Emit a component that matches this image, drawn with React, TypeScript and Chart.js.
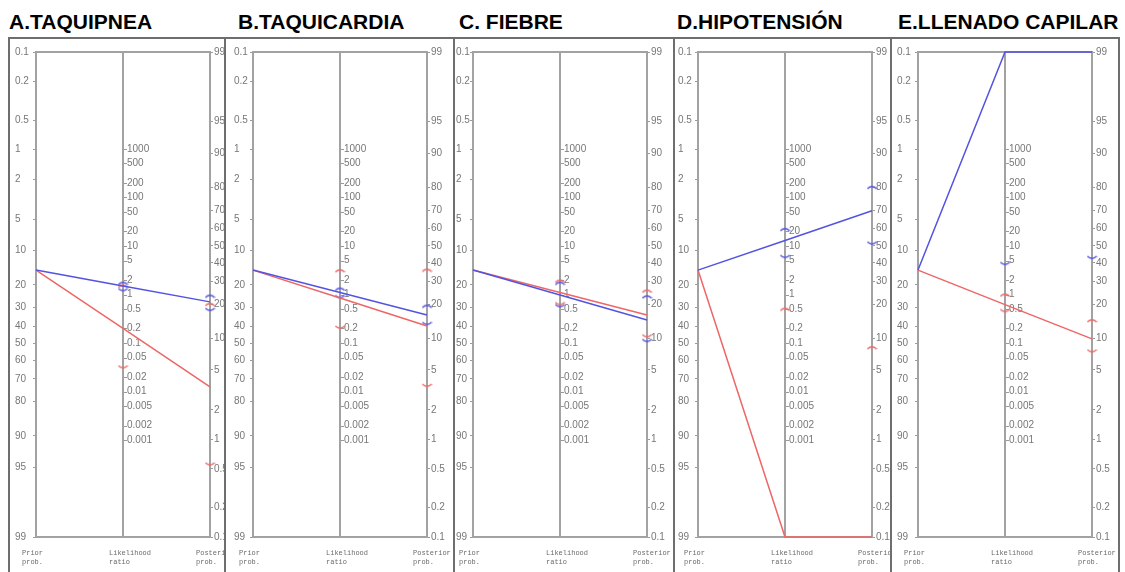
import React, { useEffect, useRef } from "react";
import { Chart, registerables } from "chart.js";

Chart.register(...registerables);

// ---------------- data ----------------
const panelTitles = ["A.TAQUIPNEA", "B.TAQUICARDIA", "C. FIEBRE", "D.HIPOTENSIÓN", "E.LLENADO CAPILAR"];

// pre-test probability (%)
const priorProbability = [15, 15, 15, 15, 15];

// positive test (blue)
const positiveLR = [1.5, 1.1, 0.98, 13, Infinity];
const positiveLRLow = [1.24, 0.89, 0.58, 6.0, 4.3];
const positiveLRHigh: (number | null)[] = [1.72, 1.3, 1.72, 22, null];
const positivePosterior = [20.9, 16.2, 14.7, 69.6, 100];
const positivePosteriorLow = [18, 13.6, 9.5, 51.5, 43];
const positivePosteriorHigh: (number | null)[] = [23.3, 19.3, 23, 80, null];

// negative test (red)
const negativeLR = [0.2, 0.85, 1.1, 0, 0.62];
const negativeLRLow: (number | null)[] = [0.032, 0.21, 0.64, null, 0.46];
const negativeLRHigh = [1.5, 3.1, 1.9, 0.5, 0.98];
const negativePosterior = [3.4, 13, 16.2, 0, 9.9];
const negativePosteriorLow: (number | null)[] = [0.56, 3.5, 10.5, null, 7.6];
const negativePosteriorHigh = [20, 36, 25.5, 8.2, 14.5];

// axis ticks
const priorTicks = [0.1, 0.2, 0.5, 1, 2, 5, 10, 20, 30, 40, 50, 60, 70, 80, 90, 95, 99];
const lrTicks = [1000, 500, 200, 100, 50, 20, 10, 5, 2, 1, 0.5, 0.2, 0.1, 0.05, 0.02, 0.01, 0.005, 0.002, 0.001];
const lrTickLabels = ["1000", "500", "200", "100", "50", "20", "10", "5", "2", "1", "0.5", "0.2", "0.1", "0.05", "0.02", "0.01", "0.005", "0.002", "0.001"];
const posteriorTicks = [99, 95, 90, 80, 70, 60, 50, 40, 30, 20, 10, 5, 2, 1, 0.5, 0.2, 0.1];
const axisNames = [["Prior", "prob."], ["Likelihood", "ratio"], ["Posterior", "prob."]];

// ---------------- layout ----------------
const panelLeft = [8, 224, 453, 673, 890];
const panelRight = [224, 453, 673, 890, 1120];
const leftAxisX = [36, 253, 473, 698, 918];
const labelStartX = [15, 234, 456, 678, 897];
const titleX = [9, 238, 459, 677, 898];
const BORDER = 2;
const FRAME_TOP = 37;
const CANVAS_H = 572 - FRAME_TOP - BORDER;
const PLOT_W = 174;
const PLOT_TOP = 13;
const PLOT_H = 485;

const FRAME_COLOR = "#6e6e6e";
const AXIS_COLOR = "#a2a2a2";
const TICK_COLOR = "#9a9a9a";
const LABEL_COLOR = "#777777";
const BLUE = "#5353e2";
const RED = "#ee6666";
const TICK_FONT = "'Liberation Sans', Arial, sans-serif";
const MONO_FONT = "'Liberation Mono', 'DejaVu Sans Mono', monospace";

// ---------------- nomogram geometry ----------------
const logit = (p: number) => Math.log(p / (100 - p));
const U_MAX = -logit(0.1);
const U_MIN = -logit(99);
const SHIFT = U_MAX + U_MIN;
const clampU = (u: number) => Math.min(U_MAX, Math.max(U_MIN, u));
const uPrior = (p: number) => clampU(-logit(p));
const uLR = (lr: number) => clampU((Math.log(lr) + SHIFT) / 2);
const uPost = (p: number) => clampU(logit(p) + SHIFT);

function makeArc(color: string, up: boolean) {
  const c = document.createElement("canvas");
  c.width = 11;
  c.height = 5;
  const g = c.getContext("2d")!;
  g.strokeStyle = color;
  g.lineWidth = 1.4;
  g.beginPath();
  if (up) {
    g.moveTo(0.8, 4);
    g.quadraticCurveTo(5.5, -0.4, 10.2, 4);
  } else {
    g.moveTo(0.8, 1);
    g.quadraticCurveTo(5.5, 5.4, 10.2, 1);
  }
  g.stroke();
  return c;
}

const lrAxisLabels = {
  id: "lrAxisLabels",
  beforeDatasetsDraw(chart: any) {
    const scale = chart.scales.yLR;
    const x = chart.scales.x.getPixelForValue(1);
    const ctx = chart.ctx;
    ctx.save();
    ctx.font = `10px ${TICK_FONT}`;
    ctx.fillStyle = LABEL_COLOR;
    ctx.strokeStyle = TICK_COLOR;
    ctx.lineWidth = 1;
    ctx.textAlign = "left";
    ctx.textBaseline = "middle";
    lrTicks.forEach((lr, i) => {
      const y = scale.getPixelForValue(Math.log(lr));
      ctx.beginPath();
      ctx.moveTo(x + 1, Math.round(y) + 0.5);
      ctx.lineTo(x + 4, Math.round(y) + 0.5);
      ctx.stroke();
      ctx.fillText(lrTickLabels[i], x + 4, y);
    });
    ctx.restore();
  },
};

function marks(lrs: (number | null)[], posts: (number | null)[], i: number) {
  const pts: { x: number; y: number }[] = [];
  const lr = lrs[i];
  const post = posts[i];
  if (lr !== null) pts.push({ x: 1, y: uLR(lr) });
  if (post !== null) pts.push({ x: 2, y: uPost(post) });
  return pts;
}

function Nomogram({ index }: { index: number }) {
  const ref = useRef<HTMLCanvasElement>(null);
  const contentLeft = panelLeft[index] + BORDER;
  const width = panelRight[index] - contentLeft - (index === panelTitles.length - 1 ? BORDER : 0);

  useEffect(() => {
    const leftOffset = leftAxisX[index] - contentLeft;
    const labelPad = labelStartX[index] - contentLeft;
    const yWidth = leftOffset - labelPad;
    const rightWidth = width - leftOffset - PLOT_W;
    const bottomHeight = CANVAS_H - PLOT_TOP - PLOT_H;

    const tickFont = { family: TICK_FONT, size: 10 };
    const border = { display: true, color: AXIS_COLOR, width: 2 };

    const line = (color: string, prior: number, lr: number, post: number) => ({
      data: [
        { x: 0, y: uPrior(prior) },
        { x: 1, y: uLR(lr) },
        { x: 2, y: uPost(post) },
      ],
      borderColor: color,
      borderWidth: 1.5,
      pointRadius: 0,
      tension: 0,
      clip: false as any,
    });
    const markSet = (pts: any[], style: HTMLCanvasElement) => ({
      data: pts,
      showLine: false,
      pointStyle: style,
      pointRadius: 4,
      clip: false as any,
    });

    const chart = new Chart(ref.current!, {
      type: "line",
      data: {
        datasets: [
          line(BLUE, priorProbability[index], positiveLR[index], positivePosterior[index]),
          line(RED, priorProbability[index], negativeLR[index], negativePosterior[index]),
          markSet(marks(positiveLRHigh, positivePosteriorHigh, index), makeArc(BLUE, true)),
          markSet(marks(positiveLRLow, positivePosteriorLow, index), makeArc(BLUE, false)),
          markSet(marks(negativeLRHigh, negativePosteriorHigh, index), makeArc(RED, true)),
          markSet(marks(negativeLRLow, negativePosteriorLow, index), makeArc(RED, false)),
        ] as any,
      },
      options: {
        animation: false,
        responsive: false,
        events: [],
        layout: { padding: { left: labelPad, right: 0, top: 0, bottom: 0 } },
        plugins: { legend: { display: false }, tooltip: { enabled: false } },
        scales: {
          x: {
            type: "linear",
            position: "bottom",
            min: 0,
            max: 2,
            grid: { display: false, drawTicks: false },
            border,
            afterBuildTicks: (s: any) => {
              s.ticks = axisNames.map((_, k) => ({ value: k }));
            },
            afterFit: (s: any) => {
              s.height = bottomHeight;
              s.paddingLeft = 0;
              s.paddingRight = 0;
            },
            ticks: {
              autoSkip: false,
              maxRotation: 0,
              minRotation: 0,
              align: "start",
              labelOffset: -14,
              padding: 12,
              color: "#6a6a6a",
              font: { family: MONO_FONT, size: 7, lineHeight: 1.25 },
              callback: (v: any) => axisNames[v as number],
            },
          },
          xTop: {
            type: "linear",
            position: "top",
            min: 0,
            max: 2,
            grid: { display: false, drawTicks: false },
            ticks: { display: false },
            border,
            afterFit: (s: any) => {
              s.height = PLOT_TOP;
              s.paddingLeft = 0;
              s.paddingRight = 0;
            },
          },
          y: {
            type: "linear",
            position: "left",
            min: U_MIN,
            max: U_MAX,
            border,
            grid: { display: true, drawOnChartArea: false, drawTicks: true, tickLength: 3, color: TICK_COLOR },
            afterBuildTicks: (s: any) => {
              s.ticks = priorTicks.map((p) => ({ value: -logit(p) }));
            },
            afterFit: (s: any) => {
              s.width = yWidth;
              s.paddingTop = 0;
              s.paddingBottom = 0;
            },
            ticks: {
              autoSkip: false,
              crossAlign: "far",
              padding: 1,
              color: LABEL_COLOR,
              font: tickFont,
              callback: (_v: any, k: number) => String(priorTicks[k]),
            },
          },
          yPost: {
            type: "linear",
            position: "right",
            min: U_MIN - SHIFT,
            max: U_MAX - SHIFT,
            border,
            grid: { display: true, drawOnChartArea: false, drawTicks: true, tickLength: 3, color: TICK_COLOR },
            afterBuildTicks: (s: any) => {
              s.ticks = posteriorTicks.map((p) => ({ value: logit(p) }));
            },
            afterFit: (s: any) => {
              s.width = rightWidth;
              s.paddingTop = 0;
              s.paddingBottom = 0;
            },
            ticks: {
              autoSkip: false,
              crossAlign: "near",
              padding: 1,
              color: LABEL_COLOR,
              font: tickFont,
              callback: (_v: any, k: number) => String(posteriorTicks[k]),
            },
          },
          yLR: {
            type: "linear",
            position: { x: 1 } as any,
            min: 2 * U_MIN - SHIFT,
            max: 2 * U_MAX - SHIFT,
            border,
            grid: { display: false, drawTicks: false },
            ticks: { display: false },
            afterFit: (s: any) => {
              s.width = 0;
              s.paddingTop = 0;
              s.paddingBottom = 0;
            },
          },
        } as any,
      },
      plugins: [lrAxisLabels],
    });
    return () => chart.destroy();
  }, [index]);

  return <canvas ref={ref} width={width} height={CANVAS_H} style={{ display: "block" }} />;
}

export default function App() {
  return (
    <div
      style={{
        position: "fixed",
        left: 0,
        top: 0,
        width: 1125,
        height: 572,
        overflow: "hidden",
        background: "#ffffff",
      }}
    >
      {panelTitles.map((t, i) => (
        <div
          key={"t" + i}
          style={{
            position: "absolute",
            left: titleX[i],
            top: 11,
            font: "bold 21px 'Liberation Sans', Arial, sans-serif",
            lineHeight: "21px",
            color: "#000",
            whiteSpace: "nowrap",
          }}
        >
          {t}
        </div>
      ))}
      {panelTitles.map((_, i) => (
        <div
          key={"p" + i}
          style={{
            position: "absolute",
            left: panelLeft[i],
            top: FRAME_TOP,
            width: panelRight[i] - panelLeft[i],
            height: 572 - FRAME_TOP + 10,
            boxSizing: "border-box",
            borderTop: `${BORDER}px solid ${FRAME_COLOR}`,
            borderLeft: `${BORDER}px solid ${FRAME_COLOR}`,
            borderRight: i === panelTitles.length - 1 ? `${BORDER}px solid ${FRAME_COLOR}` : "none",
            overflow: "hidden",
          }}
        >
          <Nomogram index={i} />
        </div>
      ))}
    </div>
  );
}
